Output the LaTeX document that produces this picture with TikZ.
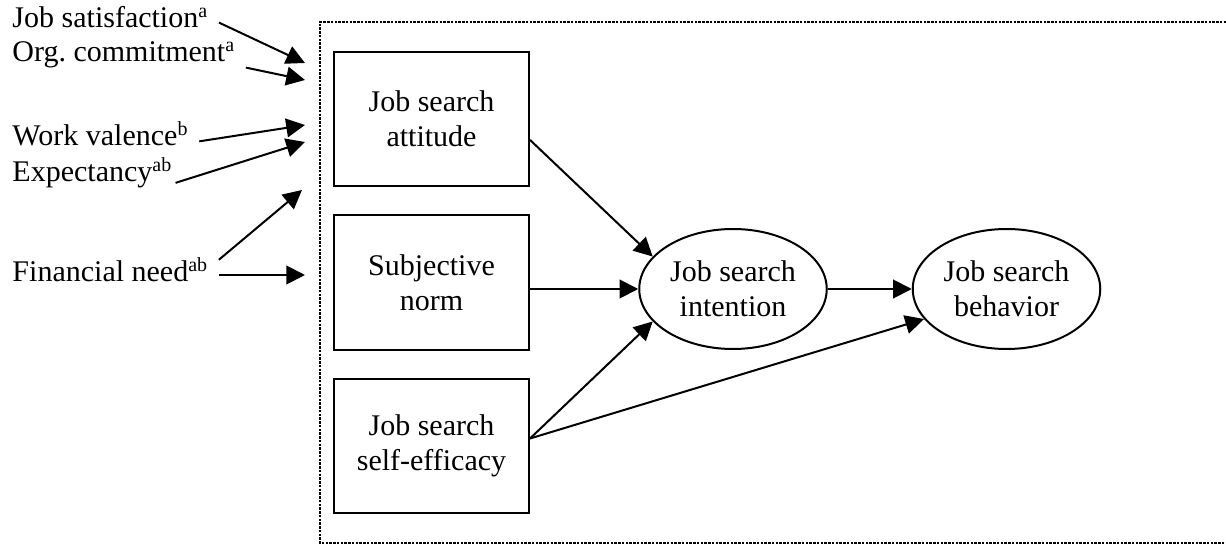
\documentclass[tikz,border=0pt]{standalone}
\usepackage{fontspec}
\setmainfont{Liberation Serif}
\usetikzlibrary{positioning}
\usetikzlibrary{calc}
\usetikzlibrary{shapes.geometric}
\usepgflibrary{arrows.meta}

\begin{document}
\begin{tikzpicture}[x=0.4pt, y=-0.4pt,
    every node/.style={font=\fontsize{12}{14}\selectfont},
    box/.style={draw, thick, minimum width=78pt, minimum height=53.6pt, align=center, inner sep=0pt},
    oval/.style={draw, thick, ellipse, minimum width=75pt, minimum height=48pt, align=center, inner sep=0pt},
    lbl/.style={anchor=base west, inner xsep=4pt, inner ysep=1pt},
    arr/.style={draw, thick, -{Triangle[length=7.5pt, width=7.5pt]}},
    frame/.style={draw, line width=1pt, dash pattern=on 1pt off 0.5pt}]
    \useasboundingbox (0, 0) rectangle (1226, 545);
    \path[frame] (1226, 22) -- (320, 22) -- (320, 543) -- (1226, 543);
    \node[box] (att) at (431.5, 119) {Job search\\attitude};
    \node[box] (norm) at (431.5, 282.5) {Subjective\\norm};
    \node[box] (eff) at (431.5, 446) {Job search\\self-efficacy};
    \node[oval] (int) at (733, 289) {Job search\\intention};
    \node[oval] (beh) at (1006.5, 289) {Job search\\behavior};
    \node[lbl] (sat) at (2, 28) {Job satisfaction\textsuperscript{a}};
    \node[lbl] (com) at (2, 62) {Org.\ commitment\textsuperscript{a}};
    \node[lbl] (val) at (2, 146) {Work valence\textsuperscript{b}};
    \node[lbl] (exp) at (2, 182) {Expectancy\textsuperscript{ab}};
    \node[lbl] (need) at (2, 282) {Financial need\textsuperscript{ab}};
    \coordinate (t1) at (305, 63);
    \coordinate (t2) at (305, 80);
    \coordinate (t3) at (305, 125);
    \coordinate (t4) at (305, 142);
    \coordinate (t5) at (302, 190);
    \coordinate (t6) at (305, 275);
    \path[arr] ([yshift=-2pt]sat.east) -- (t1);
    \path[arr] ([yshift=-5pt]com.east) -- (t2);
    \path[arr] ([yshift=-3pt]val.east) -- (t3);
    \path[arr] ([xshift=-3pt, yshift=-4pt]exp.east) -- (t4);
    \path[arr] ([yshift=4pt]need.east) -- (t5);
    \path[arr] (need.east |- t6) -- (t6);
    \path[arr] (att.-12) -- (int.158);
    \path[arr] (norm.east |- int.west) -- (int.west);
    \path[arr] ([yshift=3pt]eff.east) -- (int.202);
    \path[arr] ([yshift=3pt]eff.east) -- (beh.200);
    \path[arr] (int.east) -- (beh.west);
\end{tikzpicture}
\end{document}
